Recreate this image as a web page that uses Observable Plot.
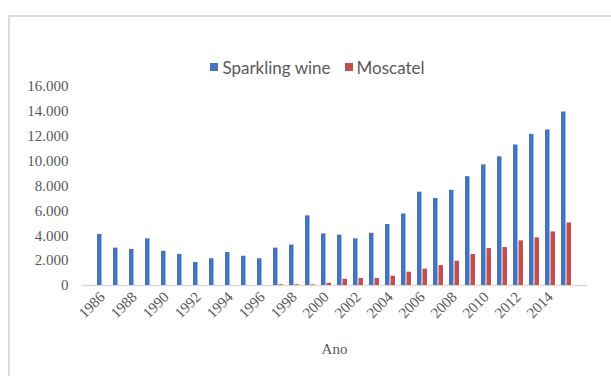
<!DOCTYPE html>
<html>
<head>
<meta charset="utf-8">
<script src="https://cdn.jsdelivr.net/npm/d3@7"></script>
<script src="https://cdn.jsdelivr.net/npm/@observablehq/plot@0.6"></script>
<style>
  html, body { margin: 0; padding: 0; background: #fff; }
  body { width: 611px; height: 376px; overflow: hidden; position: relative; }
  #frame { position: absolute; left: 8px; top: 15px; width: 620px; height: 380px;
           border-top: 2px solid #dcdcdc; border-left: 2px solid #dcdcdc; box-sizing: border-box; }
  #legend { position: absolute; top: 58px; left: 0; width: 611px; height: 18px;
            display: flex; justify-content: center; align-items: center; gap: 14px;
            font-family: Lato, "Open Sans", sans-serif; font-size: 17px; color: #595959; padding-left: 24px; box-sizing: border-box; }
  #legend span.sw { display: inline-block; width: 8px; height: 8px; margin-right: 4px; vertical-align: middle; }
  #legend .item { display: flex; align-items: center; }
  #chart { position: absolute; top: 76px; left: 0; }
  #chart svg text { font-family: "Liberation Serif", "DejaVu Serif", serif; }
</style>
</head>
<body>
<div id="frame"></div>
<div id="legend"></div>
<div id="chart"></div>
<script>
const years = [1986,1987,1988,1989,1990,1991,1992,1993,1994,1995,1996,1997,1998,1999,2000,
               2001,2002,2003,2004,2005,2006,2007,2008,2009,2010,2011,2012,2013,2014,2015];
const sparkling = [4100,3000,2900,3750,2750,2500,1850,2150,2650,2350,2150,3000,3250,5600,4150,
                   4050,3750,4200,4900,5750,7500,7000,7650,8750,9700,10350,11300,12150,12500,13950];
const moscatel = [0,0,0,0,0,0,0,0,0,0,0,60,60,50,180,
                  500,560,560,750,1070,1310,1600,1950,2490,2970,3050,3590,3830,4310,5030];
const seriesNames = ["Sparkling wine", "Moscatel"];
const seriesColors = ["#4472C4", "#C0504D"];
const yTicks = [0,2000,4000,6000,8000,10000,12000,14000,16000];
const xTickYears = years.filter((d, i) => i % 2 === 0);
const xLabel = "Ano";

const rowsS = years.map((year, i) => ({year, value: sparkling[i]}));
const rowsM = years.map((year, i) => ({year, value: moscatel[i]}));

const fmt = d3.formatLocale({decimal: ",", thousands: ".", grouping: [3], currency: ["", ""]}).format(",");

// legend
const legend = document.getElementById("legend");
seriesNames.forEach((name, i) => {
  const item = document.createElement("div");
  item.className = "item";
  const sw = document.createElement("span");
  sw.className = "sw";
  sw.style.background = seriesColors[i];
  item.appendChild(sw);
  item.appendChild(document.createTextNode(name));
  legend.appendChild(item);
});

const half = 5.5;
const chart = Plot.plot({
  width: 611,
  height: 300,
  marginTop: 10,
  marginBottom: 91,
  marginLeft: 81,
  marginRight: 24,
  style: {fontFamily: "'Liberation Serif', serif", fontSize: "15px", color: "#595959", background: "transparent"},
  x: {type: "band", domain: years, paddingInner: 0.35, paddingOuter: 0.175, align: 0.5},
  y: {domain: [0, 16000]},
  marks: [
    Plot.ruleY([0], {stroke: "#d9d9d9", strokeWidth: 1.5}),
    Plot.barY(rowsS, {x: "year", y: "value", fill: seriesColors[0], insetRight: half}),
    Plot.barY(rowsM, {x: "year", y: "value", fill: seriesColors[1], insetLeft: half}),
    Plot.axisY({ticks: yTicks, tickFormat: fmt, tickSize: 0, tickPadding: 13, label: null, fontSize: 15}),
    Plot.axisX({ticks: xTickYears, tickFormat: d => String(d), tickSize: 0, tickPadding: 9, fontSize: 15,
                tickRotate: -45, label: xLabel, labelAnchor: "center", labelArrow: "none", labelOffset: 68})
  ]
});
document.getElementById("chart").appendChild(chart);
</script>
</body>
</html>
